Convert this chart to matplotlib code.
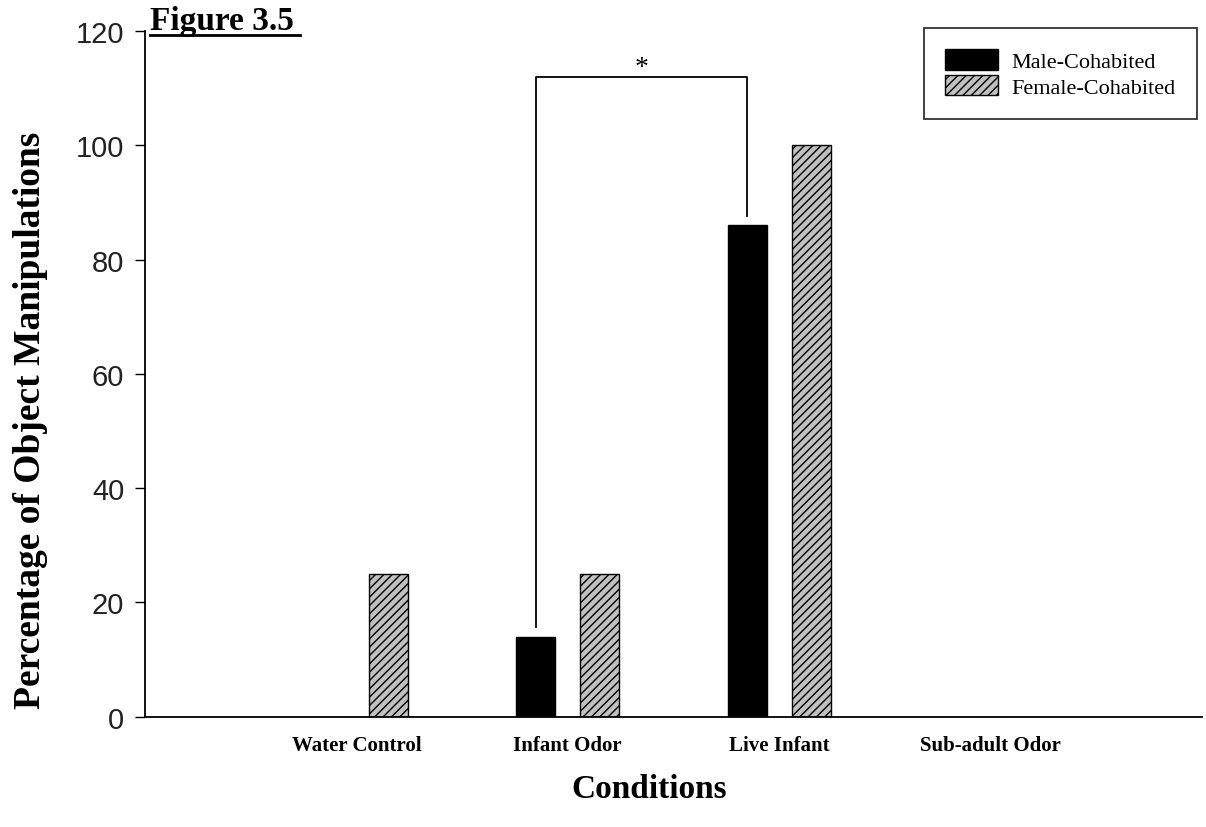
import numpy as np
import matplotlib
matplotlib.use("Agg")
import matplotlib.pyplot as plt
from matplotlib.patches import Patch

# Données
conditions = ["Water Control", "Infant Odor", "Live Infant", "Sub-adult Odor"]
male_cohabited = [0, 14, 86, 0]
female_cohabited = [25, 25, 100, 0]
y_ticks = [0, 20, 40, 60, 80, 100, 120]

# bracket de significativité (Infant Odor male vs Live Infant male)
sig_left = 15.7
sig_top = 112
sig_right = 87.6

plt.rcParams['hatch.linewidth'] = 1.0
serif = ['Liberation Serif', 'DejaVu Serif']
sans = ['Liberation Sans', 'DejaVu Sans']

fig = plt.figure(figsize=(12.06, 8.28), dpi=100)
ax = fig.add_axes([0.1202, 0.1333, 0.8765, 0.8281])

x = np.arange(len(conditions))
width = 0.184
offset = 0.151

ax.bar(x - offset, male_cohabited, width, color='black', edgecolor='black', linewidth=1)
ax.bar(x + offset, female_cohabited, width, color='#c0c0c0', edgecolor='black',
       linewidth=1, hatch='////')

ax.set_xlim(-1, 4)
ax.set_ylim(0, 120)
ax.set_yticks(y_ticks)
ax.set_yticklabels([str(t) for t in y_ticks], family=sans, fontsize=21, color='#222222')
ax.set_xticks(x)
ax.set_xticklabels(conditions, family=serif, fontweight='bold', fontsize=15)
ax.tick_params(axis='x', length=0, pad=13)
ax.tick_params(axis='y', length=7, width=1, pad=8, direction='out')

for s in ['top', 'right']:
    ax.spines[s].set_visible(False)
for s in ['left', 'bottom']:
    ax.spines[s].set_linewidth(1.3)

ax.set_ylabel("Percentage of Object Manipulations", family=serif, fontweight='bold',
              fontsize=27)
ax.yaxis.set_label_coords(-0.092, 0.434)
ax.set_xlabel("Conditions", family=serif, fontweight='bold', fontsize=24)
ax.xaxis.set_label_coords(0.477, -0.082)

# bracket
xl = x[1] - offset
xr = x[2] - offset
ax.plot([xl, xl, xr, xr], [sig_left, sig_top, sig_top, sig_right], color='black', lw=1.3)
ax.text((xl + xr) / 2, 113.6, "*", ha='center', va='center', fontsize=20,
        family=serif)

# titre
fig.text(0.1245, 0.9638, "Figure 3.5", family=serif, fontweight='bold', fontsize=24,
         ha='left', va='baseline')
fig.add_artist(plt.Line2D([0.1245, 0.2488], [0.957, 0.957], color='black', lw=2))

# légende
handles = [Patch(facecolor='black', edgecolor='black', label='Male-Cohabited'),
           Patch(facecolor='#c0c0c0', edgecolor='black', hatch='////', label='Female-Cohabited')]
leg = ax.legend(handles=handles, loc='upper right', bbox_to_anchor=(0.9925, 0.965),
                bbox_transform=fig.transFigure,
                prop={'family': serif, 'size': 16}, frameon=True, fancybox=False,
                edgecolor='black', handlelength=2.4, handleheight=1.05,
                borderpad=0.95, labelspacing=0.12, handletextpad=0.6, borderaxespad=0)
leg.get_frame().set_linewidth(1.3)

fig.savefig("out.png", dpi=100)
